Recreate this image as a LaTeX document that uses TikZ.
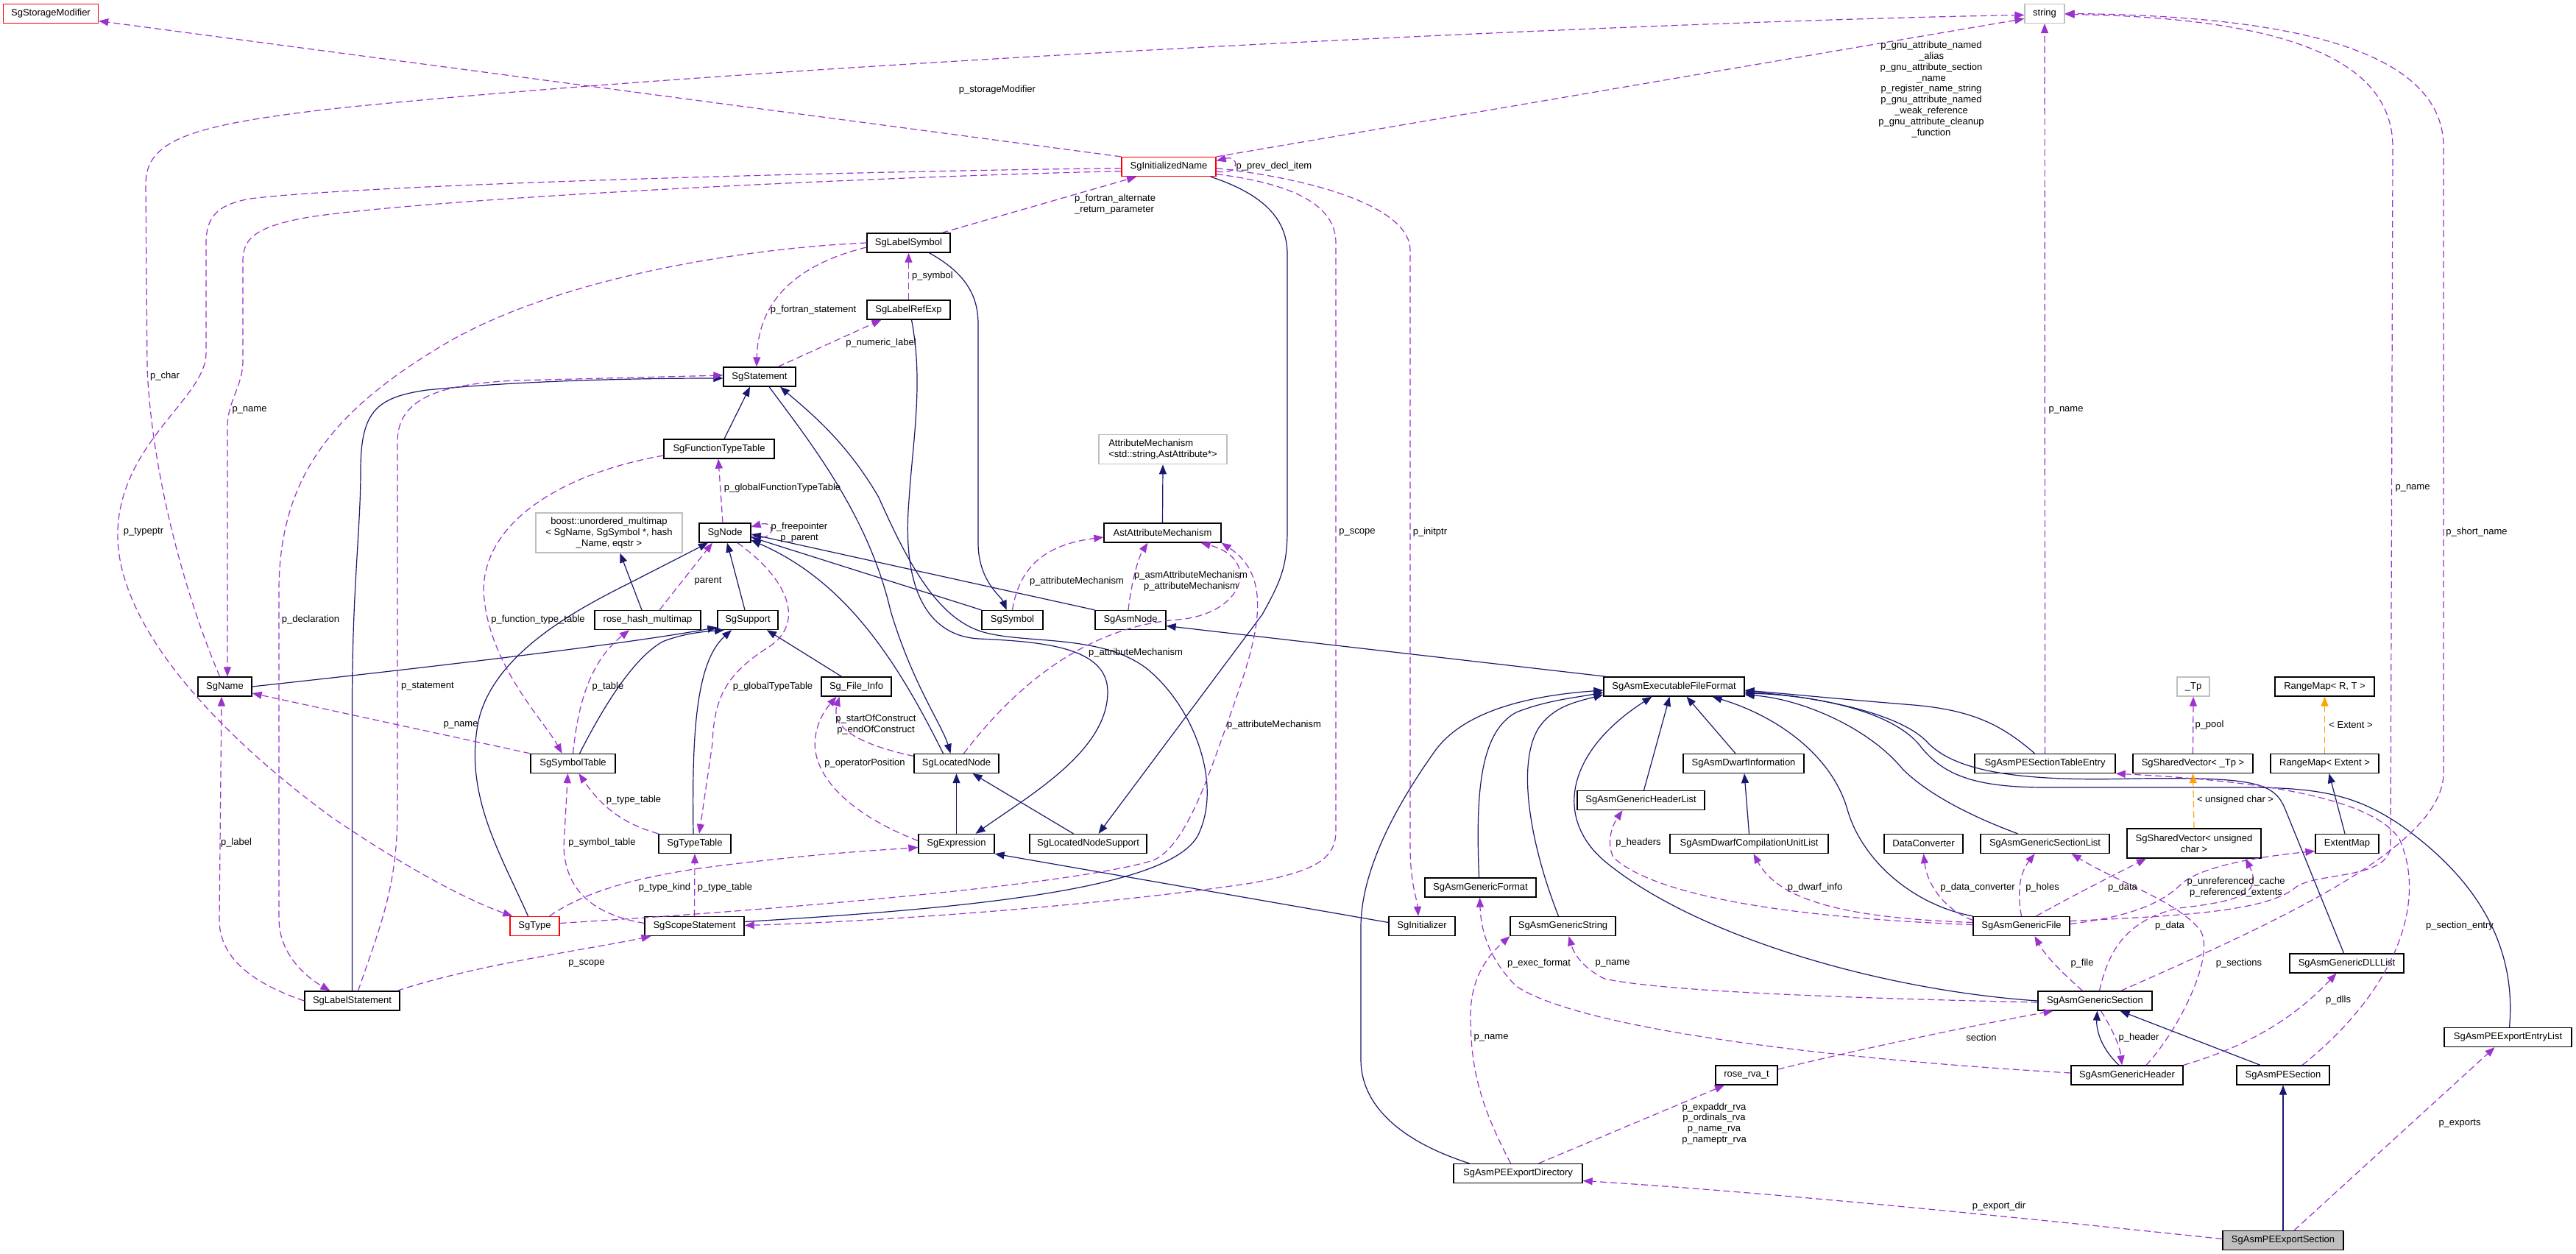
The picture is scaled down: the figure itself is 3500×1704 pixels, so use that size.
\documentclass[tikz,border=0pt]{standalone}
\usepackage{fontspec}
\setmainfont{Liberation Sans}
\usetikzlibrary{arrows.meta}
\definecolor{inhc}{HTML}{191970}
\definecolor{usec}{HTML}{9A32CD}
\definecolor{tmplc}{HTML}{FFA500}
\definecolor{redb}{HTML}{FF0000}
\definecolor{grayb}{HTML}{BFBFBF}
\begin{document}
\begin{tikzpicture}[x=1pt,y=-1pt,
 font=\fontsize{13}{14.9}\selectfont,
 nbox/.style={draw=black,line width=1.3pt,fill=white,inner sep=0pt,align=center},
 sz/.style 2 args={minimum width=#1pt,minimum height=#2pt},
 redn/.style={draw=redb},
 grayn/.style={draw=grayb},
 inhe/.style={draw=inhc,line width=1.2pt,-{Triangle[length=13pt,width=10pt]}},
 usage/.style={draw=usec,line width=1.2pt,dash pattern=on 9pt off 5pt,-{Triangle[length=13pt,width=10pt]}},
 tmpl/.style={draw=tmplc,line width=1.2pt,dash pattern=on 9pt off 5pt,-{Triangle[length=13pt,width=10pt]}},
 lbl/.style={inner sep=0pt,align=center}]
\useasboundingbox (0,0) rectangle (3500,1704);
\fill[white] (0,0) rectangle (3500,1704);
% ---------------- nodes
\node[nbox,redn,sz={129}{26}] (SM) at (69,18.5) {SgStorageModifier};
\node[nbox,grayn,sz={54}{26}] (STR) at (2778,18.4) {string};
\node[nbox,redn,sz={128}{26}] (IN) at (1588,226.6) {SgInitializedName};
\node[nbox,sz={113}{26}] (LSym) at (1234.5,330) {SgLabelSymbol};
\node[nbox,sz={113}{26}] (LRef) at (1234.5,421) {SgLabelRefExp};
\node[nbox,sz={98}{26}] (Stmt) at (1032,512) {SgStatement};
\node[nbox,sz={150}{26}] (FTT) at (977,610) {SgFunctionTypeTable};
\node[nbox,grayn,sz={174}{40},align=left] (AM) at (1580,610.7) {AttributeMechanism\\<std::string,AstAttribute*>};
\node[nbox,sz={70}{26}] (Node) at (985,724) {SgNode};
\node[nbox,sz={159}{26}] (AAM) at (1579.5,724) {AstAttributeMechanism};
\node[nbox,grayn,sz={199}{54}] (Boost) at (827.5,724) {boost::unordered\_multimap\\< SgName, SgSymbol *, hash\\\_Name, eqstr >};
\node[nbox,sz={144}{26}] (RHM) at (880,842.5) {rose\_hash\_multimap};
\node[nbox,sz={82}{26}] (Sup) at (1016,842.5) {SgSupport};
\node[nbox,sz={83}{26}] (Sym) at (1375.5,842.5) {SgSymbol};
\node[nbox,sz={96}{26}] (AsmNode) at (1536,842.5) {SgAsmNode};
\node[nbox,sz={73}{26}] (Name) at (305.5,933) {SgName};
\node[nbox,sz={95}{26}] (FI) at (1163.5,933) {Sg\_File\_Info};
\node[nbox,sz={191}{26}] (EFF) at (2274.5,933) {SgAsmExecutableFileFormat};
\node[nbox,grayn,sz={44}{26}] (Tp) at (2980,933) {\_Tp};
\node[nbox,sz={135}{26}] (RMRT) at (3158.5,933) {RangeMap< R, T >};
\node[nbox,sz={115}{26}] (SymT) at (778.5,1037.5) {SgSymbolTable};
\node[nbox,sz={115}{26}] (LN) at (1299.5,1037.5) {SgLocatedNode};
\node[nbox,sz={164}{26}] (DwI) at (2369,1037.5) {SgAsmDwarfInformation};
\node[nbox,sz={191}{26}] (PESTE) at (2778.5,1037.5) {SgAsmPESectionTableEntry};
\node[nbox,sz={163}{26}] (SVTp) at (2979.5,1037.5) {SgSharedVector< \_Tp >};
\node[nbox,sz={147}{26}] (RME) at (3158.5,1037.5) {RangeMap< Extent >};
\node[nbox,sz={173}{26}] (GHL) at (2229.5,1087.5) {SgAsmGenericHeaderList};
\node[nbox,sz={98}{26}] (TT) at (944,1146.5) {SgTypeTable};
\node[nbox,sz={103}{26}] (Expr) at (1299.5,1146.5) {SgExpression};
\node[nbox,sz={159}{26}] (LNS) at (1478.5,1146.5) {SgLocatedNodeSupport};
\node[nbox,sz={215}{26}] (DwCU) at (2376.5,1146.5) {SgAsmDwarfCompilationUnitList};
\node[nbox,sz={107}{26}] (DC) at (2613.5,1146.5) {DataConverter};
\node[nbox,sz={175}{26}] (GSL) at (2778.5,1146.5) {SgAsmGenericSectionList};
\node[nbox,sz={182}{40}] (SVuc) at (2981,1146) {SgSharedVector< unsigned\\char >};
\node[nbox,sz={86}{26}] (EM) at (3189,1146.5) {ExtentMap};
\node[nbox,sz={151}{26}] (GFmt) at (2011.5,1206) {SgAsmGenericFormat};
\node[nbox,redn,sz={67}{26}] (Type) at (726.5,1258.5) {SgType};
\node[nbox,sz={135}{26}] (Scope) at (943.5,1258.5) {SgScopeStatement};
\node[nbox,sz={90}{26}] (Init) at (1932,1258.5) {SgInitializer};
\node[nbox,sz={143}{26}] (GStr) at (2123.5,1258.5) {SgAsmGenericString};
\node[nbox,sz={131}{26}] (GFile) at (2746.5,1258.5) {SgAsmGenericFile};
\node[nbox,sz={155}{26}] (DLL) at (3188.5,1309) {SgAsmGenericDLLList};
\node[nbox,sz={129}{26}] (LStmt) at (478.5,1360) {SgLabelStatement};
\node[nbox,sz={155}{26}] (GSec) at (2846.5,1360) {SgAsmGenericSection};
\node[nbox,sz={173}{26}] (PEEL) at (3407.5,1409.5) {SgAsmPEExportEntryList};
\node[nbox,sz={84}{26}] (RVA) at (2373,1461) {rose\_rva\_t};
\node[nbox,sz={152}{26}] (GHdr) at (2890,1461) {SgAsmGenericHeader};
\node[nbox,sz={126}{26}] (PESec) at (3102,1461) {SgAsmPESection};
\node[nbox,sz={175}{26}] (PEED) at (2062.5,1594.5) {SgAsmPEExportDirectory};
\node[nbox,fill=grayb,sz={164}{26}] (PEES) at (3102,1685.5) {SgAsmPEExportSection};
% ---------------- inheritance
\draw[inhe] (LStmt.north) -- (478.5,960) .. controls (478.5,800) and (490,720) .. (490,640) .. controls (490,560) and (510,540) .. (580,530) .. controls (700,518) and (850,514) .. ([yshift=-2pt]Stmt.west);
\draw[inhe] ([xshift=7pt]FTT.north) -- ([xshift=-13pt]Stmt.south);
\draw[inhe] ([xshift=13pt]Stmt.south) .. controls (1100,600) and (1180,700) .. (1210,830) .. controls (1240,930) and (1280,985) .. ([xshift=-8pt]LN.north);
\draw[inhe] ([yshift=6pt]Scope.east) .. controls (1300,1235) and (1600,1210) .. (1630,1130) .. controls (1660,1060) and (1620,960) .. (1560,910) .. controls (1500,862) and (1400,875) .. (1340,860) .. controls (1280,845) and (1240,780) .. (1194,676) .. controls (1150,600) and (1100,560) .. ([xshift=28pt]Stmt.south);
\draw[inhe] ([xshift=-18pt]LN.north) .. controls (1220,900) and (1150,790) .. ([yshift=-10pt]Node.east);
\draw[inhe] (Sym.north west) -- ([yshift=-6pt]Node.east);
\draw[inhe] (AsmNode.north west) -- ([yshift=-2pt]Node.east);
\draw[inhe] ([xshift=-4pt]Sup.north) -- ([xshift=3pt]Node.south);
\draw[inhe] ([xshift=-9pt]Type.north) .. controls (680,1160) and (630,1080) .. (650,980) .. controls (670,890) and (780,830) .. (850,795) -- ([xshift=-23pt]Node.south);
\draw[inhe] ([xshift=9pt]SymT.north) .. controls (820,960) and (860,895) .. (900,872) .. controls (930,860) and (960,858) .. ([xshift=-32pt]Sup.south);
\draw[inhe] (Name.east) .. controls (600,905) and (850,875) .. ([yshift=-10pt]Sup.west);
\draw[inhe] ([xshift=-2pt]TT.north) .. controls (940,1000) and (945,900) .. ([xshift=-22pt]Sup.south);
\draw[inhe] ([xshift=-20pt]FI.north) -- ([xshift=26pt]Sup.south);
\draw[inhe] ([xshift=4pt]LRef.south) .. controls (1255,520) and (1240,600) .. (1235,680) .. controls (1225,800) and (1260,864) .. (1330,868) .. controls (1420,872) and (1505,880) .. (1505,940) .. controls (1505,1020) and (1400,1080) .. ([xshift=26pt]Expr.north);
\draw[inhe] (Expr.north) -- (LN.south);
\draw[inhe] ([xshift=-20pt]LNS.north) -- ([xshift=22pt]LN.south);
\draw[inhe] ([xshift=57pt]IN.south) .. controls (1720,265) and (1749,300) .. (1749,345) -- (1749,720) .. controls (1749,770) and (1740,790) .. (1715,835) -- ([xshift=14pt]LNS.north);
\draw[inhe] ([yshift=5pt]Init.west) -- (Expr.south east);
\draw[inhe] ([xshift=28pt]LSym.south) .. controls (1310,370) and (1329,400) .. (1329,440) -- (1329,740) .. controls (1330,790) and (1360,810) .. ([xshift=-8pt]Sym.north);
\draw[inhe] ([xshift=-8pt]RHM.north) -- ([xshift=15pt]Boost.south);
\draw[inhe] (AAM.north) -- (AM.south);
\draw[inhe] ([xshift=4pt]EFF.north west) -- ([yshift=-8pt]AsmNode.east);
\draw[inhe] ([xshift=-66pt]PEED.north) .. controls (1900,1550) and (1849,1500) .. (1849,1440) -- (1849,1260) .. controls (1849,1180) and (1900,1090) .. (1950,1020) .. controls (1990,965) and (2080,945) .. ([yshift=-5pt]EFF.west);
\draw[inhe] ([xshift=-2pt]GFmt.north) .. controls (2005,1080) and (2010,995) .. (2060,968) .. controls (2100,952) and (2140,948) .. ([yshift=-8pt]EFF.west);
\draw[inhe] ([xshift=-6pt]GStr.north) .. controls (2080,1150) and (2060,1040) .. (2090,990) .. controls (2110,960) and (2140,954) .. ([yshift=-11pt]EFF.west);
\draw[inhe] (GSec.west) .. controls (2550,1345) and (2300,1270) .. (2180,1170) .. controls (2110,1110) and (2130,1020) .. ([xshift=-30pt]EFF.south);
\draw[inhe] ([xshift=4pt]GHL.north) -- ([xshift=-6pt]EFF.south);
\draw[inhe] ([xshift=-11pt]DwI.north) -- ([xshift=17pt]EFF.south);
\draw[inhe] (DwCU.north) -- ([xshift=1pt]DwI.south);
\draw[inhe] (GFile.north west) .. controls (2600,1230) and (2530,1170) .. (2510,1100) .. controls (2490,1030) and (2420,975) .. ([xshift=52pt]EFF.south);
\draw[inhe] ([xshift=-14pt]PESTE.north) .. controls (2720,985) and (2680,965) .. (2600,958) .. controls (2500,950) and (2420,942) .. ([yshift=-5pt]EFF.east);
\draw[inhe] ([xshift=-4pt]DLL.north) -- (3105,1100) .. controls (3090,1062) and (3060,1056) .. (2900,1058) .. controls (2750,1062) and (2660,1050) .. (2620,1010) .. controls (2580,965) and (2450,945) .. ([yshift=-7pt]EFF.east);
\draw[inhe] ([xshift=2pt]PEEL.north) .. controls (3420,1280) and (3360,1190) .. (3260,1120) .. controls (3200,1080) and (3150,1070) .. (3050,1070) -- (2780,1070) .. controls (2680,1070) and (2640,1052) .. (2610,1015) .. controls (2570,962) and (2450,944) .. ([yshift=-9pt]EFF.east);
\draw[inhe] ([xshift=-37pt]GSL.north) .. controls (2680,1110) and (2620,1080) .. (2585,1045) .. controls (2540,990) and (2450,950) .. ([yshift=-11pt]EFF.east);
\draw[inhe] ([xshift=-11pt]GHdr.north) .. controls (2855,1425) and (2848,1400) .. ([xshift=3pt]GSec.south);
\draw[inhe] ([xshift=-31pt]PESec.north) -- ([xshift=34pt]GSec.south);
\draw[inhe] (PEES.north) -- (PESec.south);
\draw[inhe] ([xshift=-3pt]EM.north) -- ([xshift=6pt]RME.south);
% ---------------- template instances
\draw[tmpl] (RME.north) -- (RMRT.south);
\draw[tmpl] (SVuc.north) -- (SVTp.south);
% ---------------- usage
\draw[usage] (IN.north west) -- ([yshift=-10pt]SM.east);
\draw[usage] (IN.north east) -- ([yshift=-7pt]STR.west);
\draw[usage] ([xshift=-7pt]Name.north) .. controls (240,780) and (205,620) .. (200,500) -- (198,250) .. controls (198,190) and (260,170) .. (450,148) .. controls (1000,90) and (2200,30) .. ([yshift=-2pt]STR.west);
\draw[usage] ([yshift=-2pt]IN.west) .. controls (1200,232) and (500,250) .. (340,270) .. controls (295,278) and (280,295) .. (280,330) -- (280,480) .. controls (280,540) and (165,600) .. (160,720) .. controls (155,850) and (300,1000) .. (450,1110) .. controls (560,1185) and (640,1225) .. ([xshift=4pt]Type.north west);
\draw[usage] ([yshift=-6pt]IN.west) .. controls (1200,240) and (600,268) .. (420,295) .. controls (345,308) and (330,325) .. (330,355) -- (330,490) .. controls (330,525) and (309,545) .. (309,580) -- ([xshift=3.5pt]Name.north);
\draw[usage] (LSym.west) .. controls (1000,338) and (750,380) .. (600,470) .. controls (450,560) and (380,650) .. (379,800) -- (379,1250) .. controls (380,1300) and (420,1330) .. ([xshift=-30pt]LStmt.north);
\draw[usage] ([xshift=8pt]LStmt.north) .. controls (520,1250) and (540,1200) .. (540,1100) -- (540,600) .. controls (540,540) and (600,522) .. (700,517) -- ([yshift=2pt]Stmt.west);
\draw[usage] (LStmt.west) .. controls (340,1335) and (298,1300) .. (298,1250) -- ([xshift=-4.5pt]Name.south);
\draw[usage] ([xshift=61pt]LStmt.north) .. controls (650,1310) and (800,1290) .. ([xshift=-59pt]Scope.south);
\draw[usage] ([yshift=4pt]Scope.west) .. controls (820,1245) and (768,1220) .. (766,1150) -- ([xshift=-7pt]SymT.south);
\draw[usage] (Scope.north) -- (TT.south);
\draw[usage] (TT.north west) .. controls (850,1120) and (820,1100) .. ([xshift=8pt]SymT.south);
\draw[usage] ([xshift=20pt]Type.north) .. controls (790,1215) and (850,1195) .. (950,1180) .. controls (1100,1160) and (1200,1155) .. ([yshift=-5pt]Expr.west);
\draw[usage] ([yshift=4pt]Type.east) .. controls (1000,1240) and (1450,1205) .. (1567,1169) .. controls (1610,1150) and (1640,1060) .. (1665,990) .. controls (1700,890) and (1740,790) .. (AAM.south east);
\draw[usage] ([xshift=-3pt]Node.north) -- ([xshift=-1pt]FTT.south);
\draw[usage] ([yshift=-5pt]Node.east) .. controls (1055,738) and (1055,706) .. ([yshift=8pt]Node.east);
\draw[usage] ([xshift=17pt]Node.south) .. controls (1075,790) and (1095,850) .. (1040,882) .. controls (990,915) and (970,945) .. (968,1010) -- ([xshift=6pt]TT.north);
\draw[usage] ([xshift=16pt]RHM.north) -- ([xshift=-17pt]Node.south);
\draw[usage] (SymT.north) .. controls (785,960) and (800,900) .. ([xshift=-25pt]RHM.south);
\draw[usage] ([yshift=-9pt]FTT.west) .. controls (780,640) and (660,700) .. (657,800) .. controls (660,900) and (740,980) .. ([xshift=-15pt]SymT.north);
\draw[usage] (SymT.north west) -- ([yshift=-9pt]Name.east);
\draw[usage] ([xshift=45pt]LSym.north) -- ([xshift=-44pt]IN.south);
\draw[usage] ([yshift=-6pt]LSym.west) .. controls (1080,360) and (1030,410) .. ([xshift=-4pt]Stmt.north);
\draw[usage] (LRef.north) -- (LSym.south);
\draw[usage] ([xshift=25pt]Stmt.north) -- ([xshift=-37pt]LRef.south);
\draw[usage] ([yshift=10pt]LN.west) .. controls (1170,1012) and (1128,990) .. ([xshift=-23pt]FI.south);
\draw[usage] ([yshift=4pt]Expr.west) .. controls (1150,1105) and (1100,1050) .. (1108,1000) .. controls (1112,975) and (1125,960) .. ([xshift=-27pt]FI.south);
\draw[usage] ([xshift=10pt]LN.north) .. controls (1400,905) and (1500,850) .. (1600,842) .. controls (1690,835) and (1715,760) .. ([xshift=52pt]AAM.south);
\draw[usage] ([xshift=-3pt]AsmNode.north) .. controls (1536,800) and (1545,760) .. ([xshift=-20pt]AAM.south);
\draw[usage] (Sym.north) .. controls (1385,770) and (1420,740) .. ([yshift=-6pt]AAM.west);
\draw[usage] ([yshift=-6pt]IN.east) .. controls (1685,240) and (1685,210) .. ([yshift=8pt]IN.east);
\draw[usage] ([yshift=-10pt]IN.east) .. controls (1760,250) and (1815,280) .. (1815,330) -- (1815,1130) .. controls (1815,1170) and (1780,1185) .. (1700,1200) .. controls (1500,1230) and (1200,1252) .. ([yshift=1pt]Scope.east);
\draw[usage] ([yshift=-2pt]IN.east) .. controls (1800,245) and (1916,285) .. (1916,340) -- (1916,1150) .. controls (1916,1200) and (1925,1220) .. ([xshift=-5pt]Init.north);
\draw[usage] (PESTE.north) -- (STR.south);
\draw[usage] (SVTp.north) -- (Tp.south);
\draw[usage] ([xshift=35pt]GSec.north) .. controls (3100,1250) and (3320,1150) .. (3320,1050) -- (3320,200) .. controls (3320,80) and (3150,22) .. (STR.east);
\draw[usage] ([yshift=7pt]GFile.east) .. controls (2950,1245) and (3080,1240) .. (3120,1205) .. controls (3150,1185) and (3245,1195) .. (3248,1150) -- (3251,200) .. controls (3251,100) and (3150,25) .. ([yshift=-1pt]STR.east);
\draw[usage] ([xshift=26pt]PESec.north) .. controls (3250,1350) and (3300,1230) .. (3260,1140) .. controls (3220,1080) and (3050,1060) .. (PESTE.south east);
\draw[usage] (GHdr.north east) .. controls (3060,1420) and (3120,1380) .. ([xshift=-14pt]DLL.south);
\draw[usage] ([xshift=15pt]PEES.north) -- ([xshift=-18pt]PEEL.south);
\draw[usage] ([yshift=2pt]PEES.west) .. controls (2700,1650) and (2400,1620) .. ([yshift=-10pt]PEED.east);
\draw[usage] ([xshift=8pt]GSec.south) .. controls (2868,1395) and (2880,1420) .. ([xshift=-7pt]GHdr.north);
\draw[usage] ([xshift=-17pt]GSec.north) .. controls (2800,1320) and (2780,1300) .. ([xshift=18pt]GFile.south);
\draw[usage] ([xshift=6pt]GSec.north) .. controls (2865,1290) and (2890,1250) .. (2960,1234) .. controls (3040,1225) and (3075,1215) .. ([xshift=70pt]SVuc.south);
\draw[usage] ([xshift=20pt]GFile.north) .. controls (2820,1215) and (2870,1190) .. ([xshift=-65pt]SVuc.south);
\draw[usage] ([yshift=3pt]GFile.east) .. controls (2900,1245) and (2940,1225) .. (2965,1200) .. controls (2995,1175) and (3080,1163) .. ([yshift=-10pt]EM.west);
\draw[usage] (GFile.north) .. controls (2740,1210) and (2745,1185) .. ([xshift=-14pt]GSL.south);
\draw[usage] ([yshift=8pt]GFile.west) .. controls (2640,1235) and (2618,1200) .. (DC.south);
\draw[usage] ([yshift=2pt]GFile.west) .. controls (2450,1248) and (2250,1220) .. (2192,1165) .. controls (2180,1140) and (2195,1115) .. ([xshift=-25pt]GHL.south);
\draw[usage] ([yshift=5pt]GFile.west) .. controls (2530,1248) and (2420,1230) .. ([xshift=6pt]DwCU.south);
\draw[usage] ([xshift=26pt]GHdr.north) .. controls (2960,1400) and (3010,1300) .. (2990,1265) .. controls (2960,1225) and (2880,1200) .. ([xshift=36pt]GSL.south);
\draw[usage] ([yshift=3pt]GHdr.west) .. controls (2500,1440) and (2150,1400) .. (2060,1340) .. controls (2020,1300) and (2012,1260) .. ([xshift=-1pt]GFmt.south);
\draw[usage] ([yshift=-2pt]GSec.west) .. controls (2450,1355) and (2250,1345) .. (2180,1330) .. controls (2150,1315) and (2138,1295) .. ([xshift=8pt]GStr.south);
\draw[usage] ([xshift=-10pt]PEED.north) .. controls (2010,1500) and (1998,1450) .. (1998,1380) .. controls (1998,1330) and (2020,1300) .. (GStr.south west);
\draw[usage] ([xshift=28pt]PEED.north) -- ([xshift=-30pt]RVA.south);
\draw[usage] ([yshift=8pt]RVA.east) .. controls (2550,1420) and (2700,1390) .. ([xshift=-57pt]GSec.south);
% ---------------- labels
\node[lbl] (l1) at (1355,122) {p\_storageModifier};
\node[lbl] (l2) at (2624,121.5) {p\_gnu\_attribute\_named\\\_alias\\p\_gnu\_attribute\_section\\\_name\\p\_register\_name\_string\\p\_gnu\_attribute\_named\\\_weak\_reference\\p\_gnu\_attribute\_cleanup\\\_function};
\node[lbl] (l3) at (224,511) {p\_char};
\node[lbl] (l4) at (339,557) {p\_name};
\node[lbl] (l5) at (195,723) {p\_typeptr};
\node[lbl] (l6) at (422,842) {p\_declaration};
\node[lbl] (l7) at (581,933) {p\_statement};
\node[lbl] (l8) at (321,1145) {p\_label};
\node[lbl] (l9) at (797,1309) {p\_scope};
\node[lbl] (l10) at (818,1145) {p\_symbol\_table};
\node[lbl] (l11) at (861,1087) {p\_type\_table};
\node[lbl] (l12) at (903,1206) {p\_type\_kind};
\node[lbl] (l13) at (985,1206) {p\_type\_table};
\node[lbl] (l14) at (626,985) {p\_name};
\node[lbl] (l15) at (826,933) {p\_table};
\node[lbl] (l16) at (731,842) {p\_function\_type\_table};
\node[lbl] (l17) at (962,790) {parent};
\node[lbl] (l18) at (1063,663) {p\_globalFunctionTypeTable};
\node[lbl] (l19) at (1086,723.5) {p\_freepointer\\p\_parent};
\node[lbl] (l20) at (1050,933) {p\_globalTypeTable};
\node[lbl] (l21) at (1190,984.5) {p\_startOfConstruct\\p\_endOfConstruct};
\node[lbl] (l22) at (1175,1037) {p\_operatorPosition};
\node[lbl] (l23) at (1463,790) {p\_attributeMechanism};
\node[lbl] (l24) at (1618,790) {p\_asmAttributeMechanism\\p\_attributeMechanism};
\node[lbl] (l25) at (1543,887) {p\_attributeMechanism};
\node[lbl] (l26) at (1731,985) {p\_attributeMechanism};
\node[lbl,align=left,anchor=west] (l27) at (1460,278) {p\_fortran\_alternate\\\_return\_parameter};
\node[lbl] (l28) at (1105,421) {p\_fortran\_statement};
\node[lbl] (l29) at (1267,375) {p\_symbol};
\node[lbl] (l30) at (1197,466) {p\_numeric\_label};
\node[lbl] (l31) at (1731,226) {p\_prev\_decl\_item};
\node[lbl] (l32) at (1844,723) {p\_scope};
\node[lbl] (l33) at (1943,723) {p\_initptr};
\node[lbl] (l34) at (2807,557) {p\_name};
\node[lbl] (l35) at (3278,663) {p\_name};
\node[lbl] (l36) at (3365,723) {p\_short\_name};
\node[lbl] (l37) at (3002,985) {p\_pool};
\node[lbl] (l38) at (3194,985) {< Extent >};
\node[lbl] (l39) at (3037,1087) {< unsigned char >};
\node[lbl] (l40) at (2226,1145) {p\_headers};
\node[lbl] (l41) at (2466,1206) {p\_dwarf\_info};
\node[lbl] (l42) at (2687,1206) {p\_data\_converter};
\node[lbl] (l43) at (2775,1206) {p\_holes};
\node[lbl] (l44) at (2884,1206) {p\_data};
\node[lbl] (l45) at (3038,1206) {p\_unreferenced\_cache\\p\_referenced\_extents};
\node[lbl] (l46) at (2948,1258) {p\_data};
\node[lbl] (l47) at (3342,1258) {p\_section\_entry};
\node[lbl] (l48) at (2829,1309) {p\_file};
\node[lbl] (l49) at (3042,1309) {p\_sections};
\node[lbl] (l50) at (3177,1359) {p\_dlls};
\node[lbl] (l51) at (2091,1309) {p\_exec\_format};
\node[lbl] (l52) at (2191,1309) {p\_name};
\node[lbl] (l53) at (2026,1410) {p\_name};
\node[lbl] (l54) at (2692,1410) {section};
\node[lbl] (l55) at (2906,1410) {p\_header};
\node[lbl] (l56) at (2329,1527) {p\_expaddr\_rva\\p\_ordinals\_rva\\p\_name\_rva\\p\_nameptr\_rva};
\node[lbl] (l57) at (3342,1527) {p\_exports};
\node[lbl] (l58) at (2716,1639) {p\_export\_dir};
\end{tikzpicture}
\end{document}
